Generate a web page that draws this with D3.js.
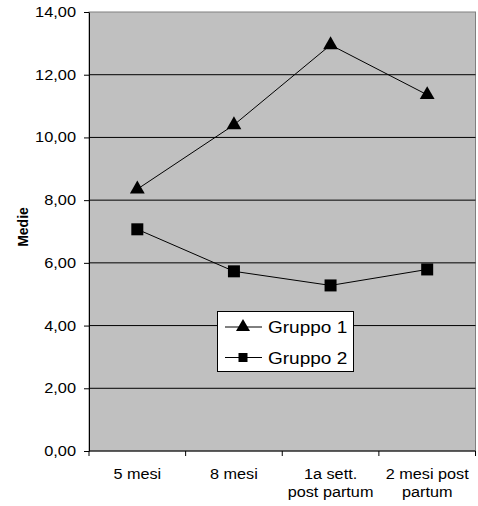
<!DOCTYPE html>
<html>
<head>
<meta charset="utf-8">
<script src="https://cdn.jsdelivr.net/npm/d3@7"></script>
<style>
    body { margin: 0; background: #fff; }
    svg { display: block; font-family: "Liberation Sans", Arial, sans-serif; }
</style>
</head>
<body>
<svg width="478" height="506"></svg>
<script>
// categories, each split in the lines shown under the axis
const categories = ["5 mesi", "8 mesi", "1a sett. post partum", "2 mesi post partum"];
const categoryLines = [["5 mesi"], ["8 mesi"], ["1a sett.", "post partum"], ["2 mesi post", "partum"]];
const gruppo1 = [8.35, 10.40, 12.95, 11.36];
const gruppo2 = [7.07, 5.73, 5.28, 5.79];
const seriesNames = ["Gruppo 1", "Gruppo 2"];
const yTicks = [0, 2, 4, 6, 8, 10, 12, 14];
const yTitle = "Medie";

const svg = d3.select('svg');
const margin = { top: 12, right: 2.5, bottom: 55, left: 89 };
const width = +svg.attr('width');
const height = +svg.attr('height');
const innerWidth = width - margin.left - margin.right;
const innerHeight = height - margin.top - margin.bottom;

const it = d3.formatLocale({ decimal: ",", thousands: ".", grouping: [3], currency: ["", "€"] });
const fmt = it.format(".2f");

// the original picture is a bit wider than the font, so stretch horizontal text around its x
function stretch(sel, f) {
    sel.each(function () {
        const ax = +this.getAttribute('x') || 0;
        this.setAttribute('transform', `translate(${ax},0) scale(${f},1) translate(${-ax},0)`);
    });
}

const xScale = d3.scaleBand()
    .domain(categories)
    .range([0, innerWidth])
    .padding(0);

const yScale = d3.scaleLinear()
    .domain([0, 14])
    .range([innerHeight, 0]);

const g = svg.append('g')
    .attr('transform', `translate(${margin.left}, ${margin.top})`);

// plot background
g.append('rect')
    .attr('x', 0).attr('y', 0)
    .attr('width', innerWidth).attr('height', innerHeight)
    .attr('fill', '#c0c0c0')
    .attr('stroke', '#808080')
    .attr('stroke-width', 1);

// gridlines
g.selectAll('.grid')
    .data(yTicks.filter(d => d > 0 && d < 14))
    .enter().append('line')
    .attr('class', 'grid')
    .attr('x1', 0).attr('x2', innerWidth)
    .attr('y1', d => yScale(d)).attr('y2', d => yScale(d))
    .attr('stroke', '#000')
    .attr('stroke-width', 1);

// y axis
const yAxis = g.append('g')
    .call(d3.axisLeft(yScale).tickValues(yTicks).tickFormat(fmt).tickSize(5).tickPadding(8).tickSizeOuter(0));
yAxis.select('.domain').attr('stroke', '#000');
yAxis.selectAll('text')
    .attr('font-size', 14)
    .attr('font-family', '"Liberation Sans", Arial, sans-serif')
    .attr('fill', '#000')
    .call(stretch, 1.17);

// x axis: line and ticks on the band edges
g.append('line')
    .attr('x1', 0).attr('x2', innerWidth)
    .attr('y1', innerHeight).attr('y2', innerHeight)
    .attr('stroke', '#000');
const edges = categories.map(d => xScale(d)).concat([innerWidth]);
g.selectAll('.xtick')
    .data(edges)
    .enter().append('line')
    .attr('class', 'xtick')
    .attr('x1', d => d).attr('x2', d => d)
    .attr('y1', innerHeight).attr('y2', innerHeight + 5)
    .attr('stroke', '#000');

const labelRows = [];
categories.forEach((c, i) => categoryLines[i].forEach((t, j) => labelRows.push({ c: c, t: t, j: j })));
g.selectAll('.xlabel')
    .data(labelRows)
    .enter().append('text')
    .attr('class', 'xlabel')
    .attr('text-anchor', 'middle')
    .attr('font-size', 14)
    .attr('fill', '#000')
    .attr('x', d => xScale(d.c) + xScale.bandwidth() / 2)
    .attr('y', d => innerHeight + 28 + d.j * 18.5)
    .text(d => d.t)
    .call(stretch, 1.16);

// y title
svg.append('text')
    .attr('transform', 'translate(28, 227) rotate(-90)')
    .attr('text-anchor', 'middle')
    .attr('font-size', 14)
    .attr('font-weight', 'bold')
    .text(yTitle);

// series
const xPos = (d, i) => xScale(categories[i]) + xScale.bandwidth() / 2;
const line = d3.line().x(xPos).y(d => yScale(d));

const triangle = d3.symbol().type(d3.symbolTriangle).size(95);
const square = d3.symbol().type(d3.symbolSquare).size(144);

g.append('path').datum(gruppo1)
    .attr('d', line).attr('fill', 'none').attr('stroke', '#000').attr('stroke-width', 1);
g.append('path').datum(gruppo2)
    .attr('d', line).attr('fill', 'none').attr('stroke', '#000').attr('stroke-width', 1);

g.selectAll('.m1')
    .data(gruppo1)
    .enter().append('path')
    .attr('class', 'm1')
    .attr('d', triangle)
    .attr('transform', (d, i) => `translate(${xPos(d, i)}, ${yScale(d)})`)
    .attr('fill', '#000');

g.selectAll('.m2')
    .data(gruppo2)
    .enter().append('path')
    .attr('class', 'm2')
    .attr('d', square)
    .attr('transform', (d, i) => `translate(${xPos(d, i)}, ${yScale(d)})`)
    .attr('fill', '#000');

// legend
const legend = svg.append('g').attr('transform', 'translate(217, 311)');
legend.append('rect')
    .attr('x', 0.5).attr('y', 0.5)
    .attr('width', 136).attr('height', 60)
    .attr('fill', '#fff')
    .attr('stroke', '#000');

const legendSymbols = [d3.symbol().type(d3.symbolTriangle).size(85), d3.symbol().type(d3.symbolSquare).size(81)];
const rows = legend.selectAll('.row')
    .data(seriesNames)
    .enter().append('g')
    .attr('class', 'row')
    .attr('transform', (d, i) => `translate(0, ${16 + i * 30.5})`);
rows.append('line')
    .attr('x1', 8).attr('x2', 45)
    .attr('y1', 0).attr('y2', 0)
    .attr('stroke', '#000');
rows.append('path')
    .attr('d', (d, i) => legendSymbols[i]())
    .attr('transform', 'translate(26, 0)')
    .attr('fill', '#000');
rows.append('text')
    .attr('x', 51)
    .attr('y', 6)
    .attr('font-size', 17)
    .attr('fill', '#000')
    .text(d => d)
    .call(stretch, 1.12);
</script>
</body>
</html>
